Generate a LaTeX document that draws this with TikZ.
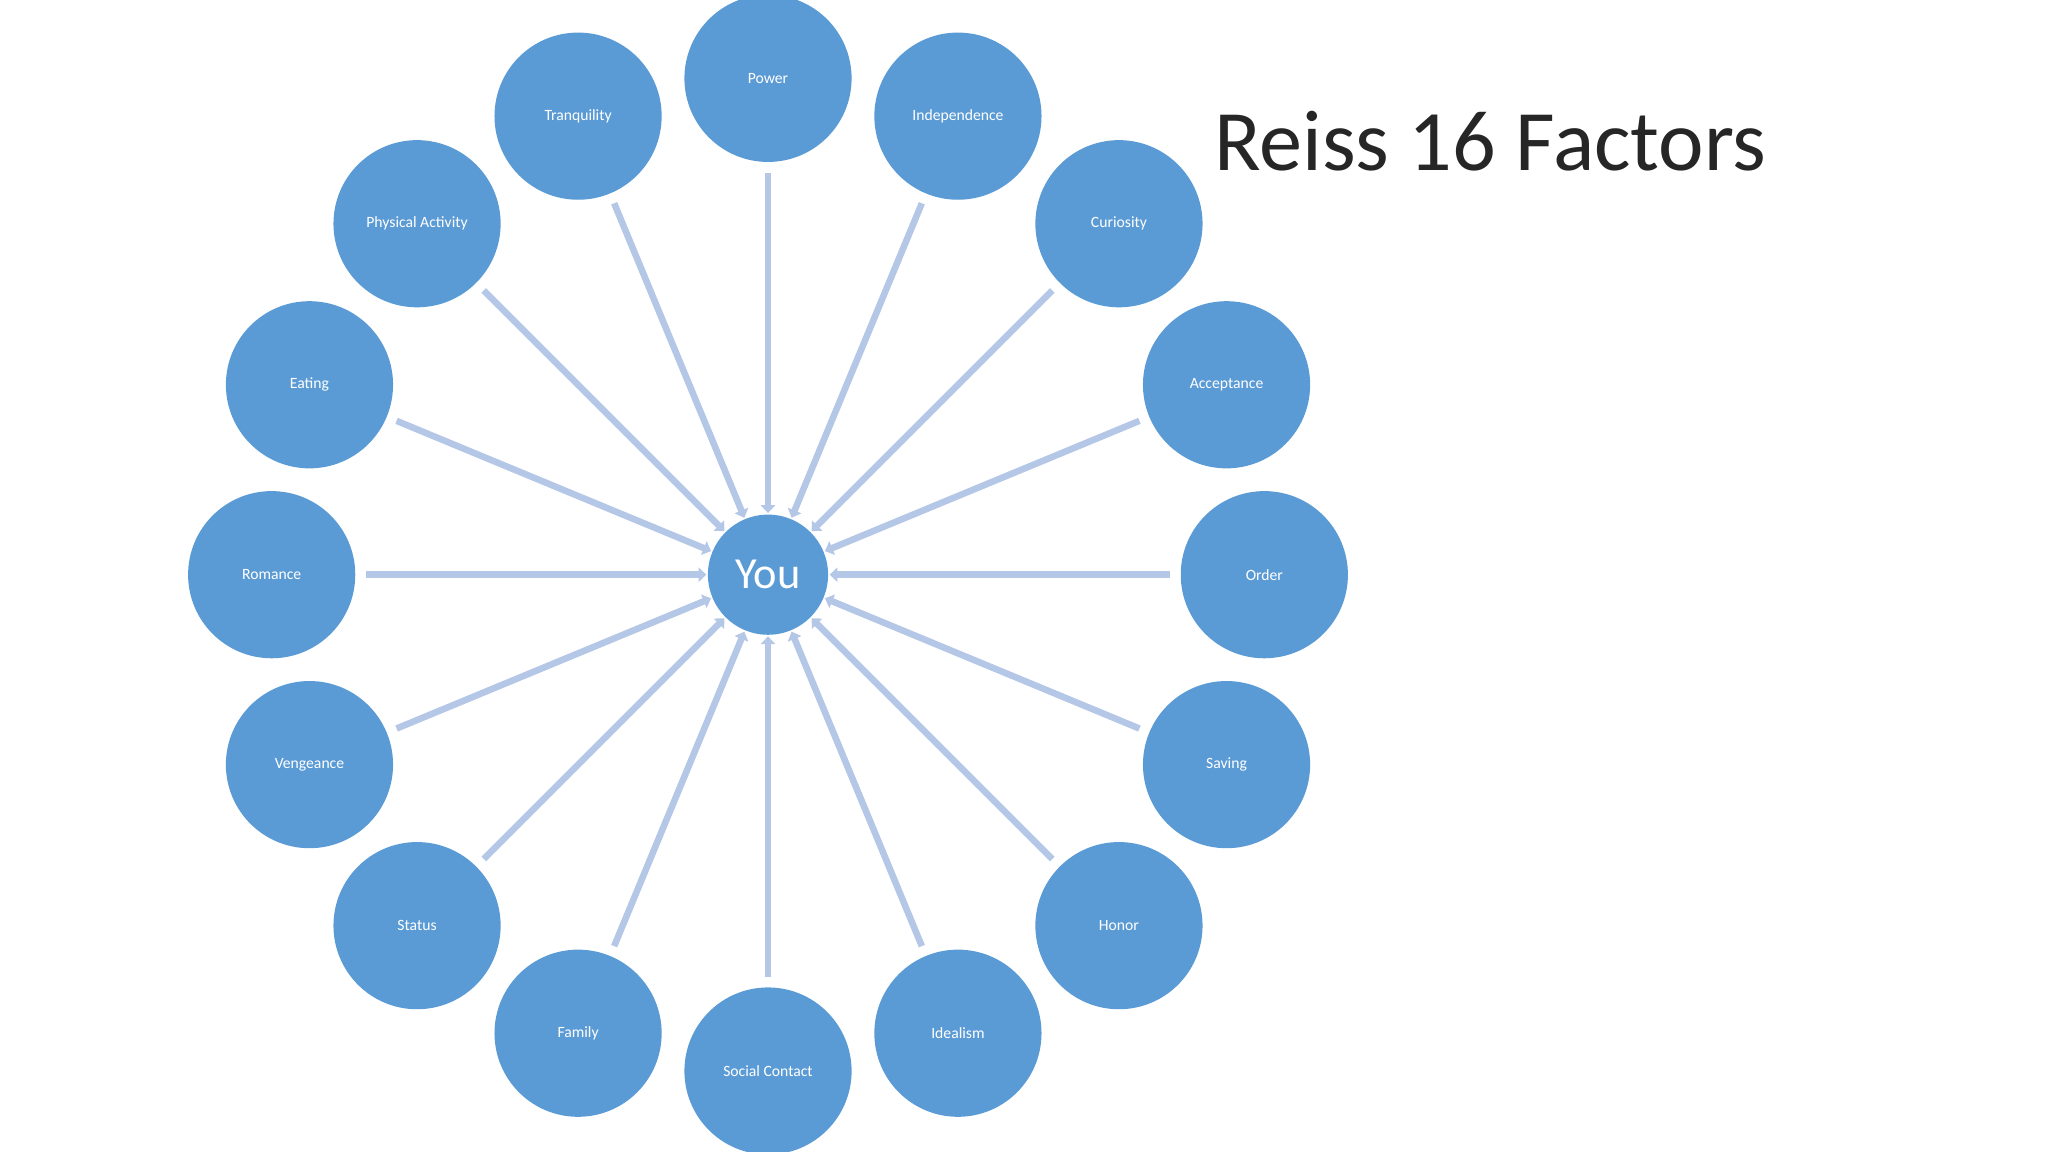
\documentclass[tikz,border=0pt]{standalone}
\usepackage{fontspec}
\setmainfont{Carlito}
\usetikzlibrary{arrows.meta}
\definecolor{circ}{HTML}{5B9BD5}
\definecolor{conn}{HTML}{B4C7E7}
\begin{document}
\begin{tikzpicture}[x=1pt,y=-1pt,
  factor/.style={circle,fill=circ,minimum size=128pt,inner sep=0pt,text=white,font=\fontsize{12}{14}\selectfont},
  link/.style={draw=conn,line width=5pt,-{Triangle[length=6pt,width=11pt]},shorten <=8pt,shorten >=1pt}]
\useasboundingbox (0,0) rectangle (1568,882);
\node[circle,fill=circ,minimum size=92pt,inner sep=0pt,text=white,font=\fontsize{34}{40}\selectfont] (you) at (588,440) {You};
\begin{scope}[shift={(588,440)}]
\foreach \n/\t [count=\i from 0] in {a/Power,b/Independence,c/Curiosity,d/Acceptance,e/Order,f/Saving,g/Honor,h/Idealism,k/Social Contact,l/Family,m/Status,n/Vengeance,o/Romance,p/Eating,q/Physical Activity,r/Tranquility}{
  \node[factor] (\n) at ({-90+22.5*\i}:380) {\t};
  \draw[link] (\n) -- (you);
}
\end{scope}
\node[anchor=west,font=\fontsize{66}{70}\selectfont,text=black!85] (title) at (926,108) {Reiss 16 Factors};
\end{tikzpicture}
\end{document}
